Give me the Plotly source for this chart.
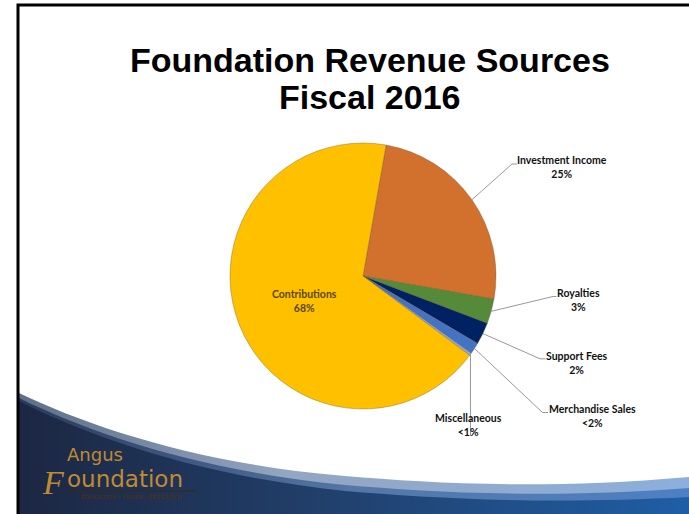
import math
import base64
import plotly.graph_objects as go

# ---------------- data ----------------
labels = ["Investment Income", "Royalties", "Support Fees",
          "Merchandise Sales", "Miscellaneous", "Contributions"]
values = [25.0, 3.0, 2.7, 1.4, 0.3, 67.6]
pct_text = ["25%", "3%", "2%", "<2%", "<1%", "68%"]
colors = ["#D2702D", "#558B38", "#002263", "#4472C4", "#8FA9D8", "#FFC000"]

title_line1 = "Foundation Revenue Sources"
title_line2 = "Fiscal 2016"

# ---------------- layout constants (pixels) ----------------
W, H = 689, 514
CX, CY, R = 363, 276, 133
ROT = 10  # degrees clockwise from 12 o'clock


def px(x):
    return x / W


def py(y):
    return 1 - y / H


# label positions (text block centre) and leader elbows
label_pos = {
    "Investment Income": (562, 167.5),
    "Royalties": (578, 300.2),
    "Support Fees": (576.5, 362.6),
    "Merchandise Sales": (592.5, 416.0),
    "Miscellaneous": (468.7, 425.3),
}
elbows = {
    "Investment Income": [(512, 164), (517, 164)],
    "Royalties": [(553, 296.5), (556.5, 296.5)],
    "Support Fees": [(540, 358.8), (545.5, 358.8)],
    "Merchandise Sales": [(542.5, 412.5), (548, 412.5)],
}
misc_line_end = 436

# ---------------- background (slide art) ----------------
svg = f'''<svg xmlns="http://www.w3.org/2000/svg" width="{W}" height="{H}" viewBox="0 0 {W} {H}" preserveAspectRatio="none">
<defs>
<linearGradient id="g1" x1="0" y1="0" x2="1" y2="0">
<stop offset="0" stop-color="#1c2742"/>
<stop offset="0.45" stop-color="#213f6b"/>
<stop offset="1" stop-color="#1f5ea6"/>
</linearGradient>
<linearGradient id="g2" x1="0" y1="0" x2="1" y2="0">
<stop offset="0" stop-color="#5f6f88"/>
<stop offset="0.4" stop-color="#93a6c2"/>
<stop offset="1" stop-color="#8cafdc"/>
</linearGradient>
<linearGradient id="g3" x1="0" y1="0" x2="1" y2="0">
<stop offset="0" stop-color="#2a3a5c"/>
<stop offset="0.5" stop-color="#5577a6"/>
<stop offset="1" stop-color="#4d80c4"/>
</linearGradient>
</defs>
<rect x="0" y="0" width="{W}" height="{H}" fill="white"/>
<path d="M19,393 C90,427 200,464 345,476 C430,483 540,490 {W},477 L{W},{H} L19,{H} Z" fill="url(#g2)"/>
<path d="M19,398 C90,433 200,471 345,485 C430,492 540,499 {W},488 L{W},{H} L19,{H} Z" fill="url(#g3)"/>
<path d="M19,401 C90,437 200,476 345,491 C430,498 540,505 {W},497 L{W},{H} L19,{H} Z" fill="url(#g1)"/>
<path d="M18,{H} L18,5 L{W},5" stroke="black" stroke-width="3" fill="none"/>
<line x1="66" y1="491" x2="196" y2="491" stroke="#3a2810" stroke-width="1.2"/>
</svg>'''
svg_uri = "data:image/svg+xml;base64," + base64.b64encode(svg.encode()).decode()

# ---------------- figure ----------------
fig = go.Figure()
fig.add_trace(go.Pie(
    labels=labels,
    values=values,
    sort=False,
    direction="clockwise",
    rotation=ROT,
    marker=dict(colors=colors, line=dict(color="rgba(110,90,50,0.55)", width=0.7)),
    textinfo="none",
    hoverinfo="label+percent",
    showlegend=False,
    domain=dict(x=[px(CX - R), px(CX + R)], y=[py(CY + R), py(CY - R)]),
))

annotations = []
shapes = []

# leader lines computed from slice mid-angles
total = sum(values)
cum = 0.0
for lab, v, t in zip(labels, values, pct_text):
    mid = ROT + (cum + v / 2) / total * 360
    cum += v
    a = math.radians(mid)
    ex, ey = CX + R * math.sin(a), CY - R * math.cos(a)
    if lab == "Contributions":
        annotations.append(dict(
            x=px(304.7), y=py(300.5), xref="paper", yref="paper",
            text=f"{lab}<br>{t}", showarrow=False,
            font=dict(family="Lato", size=10.5, color="#5a4600", weight="bold"),
            xanchor="center", yanchor="middle"))
        continue
    if lab == "Miscellaneous":
        pts = [(ex, ey), (ex, misc_line_end)]
    else:
        pts = [(ex, ey)] + elbows[lab]
    path = "M " + " L ".join(f"{px(x):.5f},{py(y):.5f}" for x, y in pts)
    shapes.append(dict(type="path", path=path, xref="paper", yref="paper",
                       line=dict(color="#8c8c8c", width=0.9)))
    lx, ly = label_pos[lab]
    annotations.append(dict(
        x=px(lx), y=py(ly), xref="paper", yref="paper",
        text=f"{lab}<br>{t}", showarrow=False,
        font=dict(family="Lato", size=10.5, color="#111111", weight="bold"),
        xanchor="center", yanchor="middle"))

# title
annotations.append(dict(x=px(370), y=py(60), xref="paper", yref="paper",
                        text=title_line1, showarrow=False,
                        font=dict(family="Liberation Sans", size=34, color="black", weight="bold"),
                        xanchor="center", yanchor="middle"))
annotations.append(dict(x=px(369), y=py(97), xref="paper", yref="paper",
                        text=title_line2, showarrow=False,
                        font=dict(family="Liberation Sans", size=34, color="black", weight="bold"),
                        xanchor="center", yanchor="middle"))

# logo
gold = "#c08a30"
annotations.append(dict(x=px(95), y=py(454.5), xref="paper", yref="paper",
                        text="Angus", showarrow=False,
                        font=dict(family="DejaVu Sans", size=18, color=gold),
                        xanchor="center", yanchor="middle"))
annotations.append(dict(x=px(53), y=py(482.5), xref="paper", yref="paper",
                        text="<i>F</i>", showarrow=False,
                        font=dict(family="Liberation Serif", size=34, color=gold),
                        xanchor="center", yanchor="middle"))
annotations.append(dict(x=px(65), y=py(479), xref="paper", yref="paper",
                        text="oundation", showarrow=False,
                        font=dict(family="DejaVu Sans", size=23, color=gold),
                        xanchor="left", yanchor="middle"))
annotations.append(dict(x=px(131), y=py(496.5), xref="paper", yref="paper",
                        text="EDUCATION • YOUTH • RESEARCH", showarrow=False,
                        font=dict(family="Liberation Sans", size=6, color="#4a3212", weight="bold"),
                        xanchor="center", yanchor="middle"))

fig.update_layout(
    width=W, height=H,
    margin=dict(l=0, r=0, t=0, b=0),
    paper_bgcolor="white",
    plot_bgcolor="white",
    images=[dict(source=svg_uri, xref="paper", yref="paper", x=0, y=1,
                 sizex=1, sizey=1, xanchor="left", yanchor="top",
                 sizing="stretch", layer="below")],
    shapes=shapes,
    annotations=annotations,
)

fig.write_html("out.html", config={"displayModeBar": False},
               post_script="document.body.style.margin='0';")
